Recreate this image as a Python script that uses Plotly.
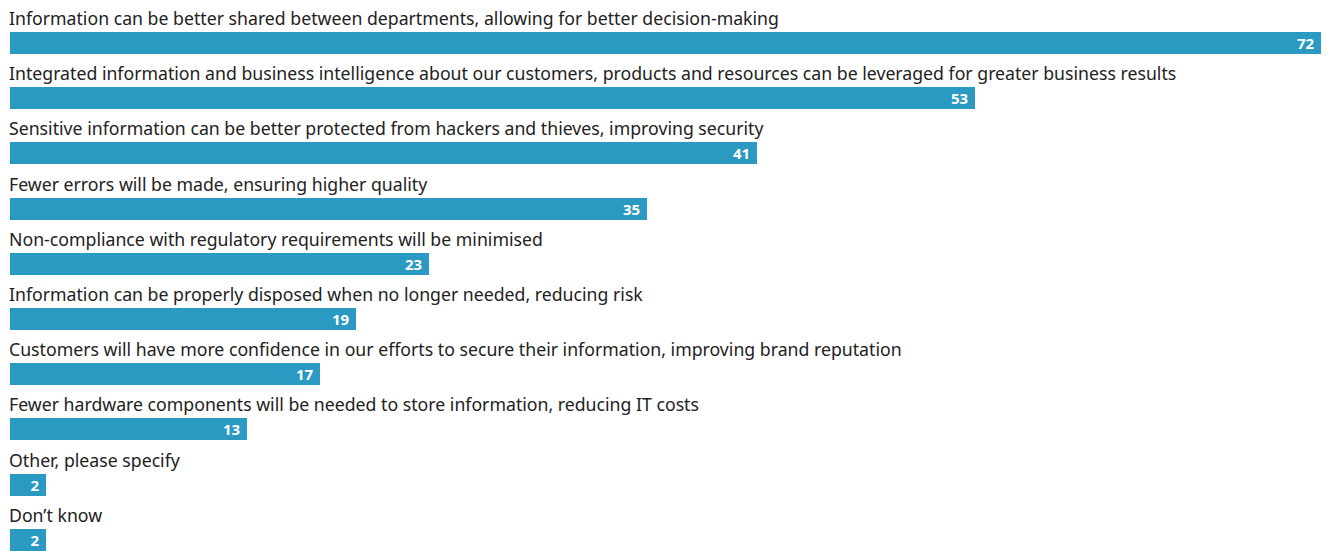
import plotly.graph_objects as go

categories = [
    "Information can be better shared between departments, allowing for better decision-making",
    "Integrated information and business intelligence about our customers, products and resources can be leveraged for greater business results",
    "Sensitive information can be better protected from hackers and thieves, improving security",
    "Fewer errors will be made, ensuring higher quality",
    "Non-compliance with regulatory requirements will be minimised",
    "Information can be properly disposed when no longer needed, reducing risk",
    "Customers will have more confidence in our efforts to secure their information, improving brand reputation",
    "Fewer hardware components will be needed to store information, reducing IT costs",
    "Other, please specify",
    "Don\u2019t know",
]
values = [72, 53, 41, 35, 23, 19, 17, 13, 2, 2]

BAR_COLOR = "#2a9ac2"
FONT = "Noto Sans"

fig = go.Figure(
    go.Bar(
        x=values,
        y=categories,
        orientation="h",
        marker=dict(color=BAR_COLOR, line=dict(width=0)),
        width=0.4,
        text=[str(v) + "\u00a0" for v in values],
        textposition="inside",
        insidetextanchor="end",
        textangle=0,
        constraintext="none",
        textfont=dict(color="white", size=15, family=FONT, weight="bold"),
        cliponaxis=False,
        hoverinfo="skip",
    )
)

for c in categories:
    fig.add_annotation(
        x=0, y=c, xref="x", yref="y",
        text=c, showarrow=False,
        xanchor="left", yanchor="bottom",
        xshift=-3, yshift=11,
        font=dict(size=17.7, color="#222222", family=FONT),
    )

fig.update_layout(
    width=1329, height=552,
    margin=dict(l=10, r=8, t=5, b=0),
    paper_bgcolor="white", plot_bgcolor="white",
    showlegend=False,
    bargap=0,
)
fig.update_xaxes(range=[0, 72], visible=False, fixedrange=True)
fig.update_yaxes(type="category", range=[9.221, -0.688], visible=False, fixedrange=True)

fig.write_html("out.html")
